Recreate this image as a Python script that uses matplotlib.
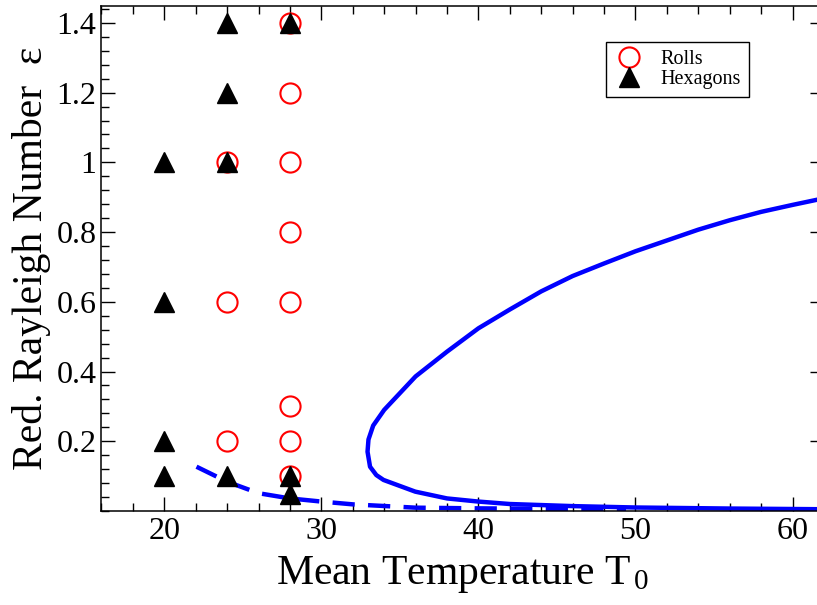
import matplotlib
matplotlib.use("Agg")
import matplotlib.pyplot as plt
from matplotlib.ticker import MultipleLocator, FixedLocator

plt.rcParams['font.family'] = ['Liberation Serif', 'DejaVu Serif']
plt.rcParams['mathtext.fontset'] = 'custom'
plt.rcParams['mathtext.rm'] = 'Liberation Serif'
plt.rcParams['mathtext.it'] = 'Liberation Serif:italic'

# measured points
rolls_T = [24, 24, 24, 28, 28, 28, 28, 28, 28, 28, 28]
rolls_eps = [1.0, 0.6, 0.2, 1.4, 1.2, 1.0, 0.8, 0.6, 0.3, 0.2, 0.1]
hex_T = [20, 20, 20, 20, 24, 24, 24, 24, 28, 28, 28]
hex_eps = [1.0, 0.6, 0.2, 0.1, 1.4, 1.2, 1.0, 0.1, 1.4, 0.1, 0.05]

# stability boundary (solid, upper and lower branch joined at the tip)
solid_T = [62.0, 60.0, 58.0, 56.0, 54.0, 52.0, 50.0, 48.0, 46.0, 44.0, 42.0, 40.0,
           38.0, 36.0, 34.0, 33.3, 33.0, 32.94, 33.1, 33.5, 33.96, 35.98, 38.0,
           40.0, 42.0, 46.0, 50.0, 56.0, 62.0]
solid_eps = [0.897, 0.878, 0.858, 0.834, 0.807, 0.776, 0.745, 0.710, 0.674, 0.630,
             0.578, 0.524, 0.457, 0.386, 0.29, 0.245, 0.205, 0.170, 0.127, 0.103,
             0.089, 0.0555, 0.036, 0.027, 0.020, 0.014, 0.010, 0.007, 0.005]

# dashed boundary
dash_T = [22.05, 24.0, 26.0, 28.0, 30.0, 32.0, 36.0, 40.0, 45.0, 49.4]
dash_eps = [0.127, 0.084, 0.051, 0.036, 0.027, 0.019, 0.0095, 0.0075, 0.006, 0.005]

fig = plt.figure(figsize=(8.17, 6.05), dpi=100)
ax = fig.add_axes([0.1242, 0.1554, 0.8843, 0.8355])

ax.plot(solid_T, solid_eps, color='#0000ff', lw=3.2, solid_capstyle='butt', zorder=2)
ax.plot(dash_T, dash_eps, color='#0000ff', lw=3.2, linestyle=(0, (5, 3)), zorder=2)

ax.plot(rolls_T, rolls_eps, linestyle='none', marker='o', ms=14.5, mfc='none',
        mec='#ff0000', mew=1.5, label='Rolls', zorder=3)
ax.plot(hex_T, hex_eps, linestyle='none', marker='^', ms=14, mfc='black',
        mec='black', mew=1, label='Hexagons', zorder=4)

ax.set_xlim(16, 62)
ax.set_ylim(0, 1.45)
ax.xaxis.set_major_locator(MultipleLocator(10))
ax.xaxis.set_minor_locator(MultipleLocator(2))
ax.yaxis.set_major_locator(FixedLocator([0.2, 0.4, 0.6, 0.8, 1.0, 1.2, 1.4]))
ax.yaxis.set_minor_locator(MultipleLocator(0.04))
ax.set_xticks([20, 30, 40, 50, 60])
ax.set_xticklabels(['20', '30', '40', '50', '60'])
ax.set_yticklabels(['0.2', '0.4', '0.6', '0.8', '1', '1.2', '1.4'])

ax.tick_params(which='both', direction='in', top=True, right=True, width=1)
ax.tick_params(which='major', length=10, labelsize=23)
ax.tick_params(axis='x', which='major', pad=4)
ax.tick_params(axis='y', which='major', pad=3.5)
ax.tick_params(which='minor', length=5.5)
ax.tick_params(axis='y', which='minor', right=False)
for sp in ax.spines.values():
    sp.set_linewidth(1.1)

ax.set_xlabel(r'Mean Temperature T$_{\,\mathrm{0}}$', fontsize=30, labelpad=6)
ax.set_ylabel('Red. Rayleigh Number  ε', fontsize=30, labelpad=4)

leg = ax.legend(loc='upper right', bbox_to_anchor=(0.896, 0.928), fontsize=14.5,
                frameon=True, fancybox=False, framealpha=1, edgecolor='black',
                numpoints=1, handlelength=1.5, handletextpad=0.8, labelspacing=0.05,
                borderpad=0.4, borderaxespad=0)
leg.get_frame().set_linewidth(1)

fig.savefig('out.png', dpi=100)
